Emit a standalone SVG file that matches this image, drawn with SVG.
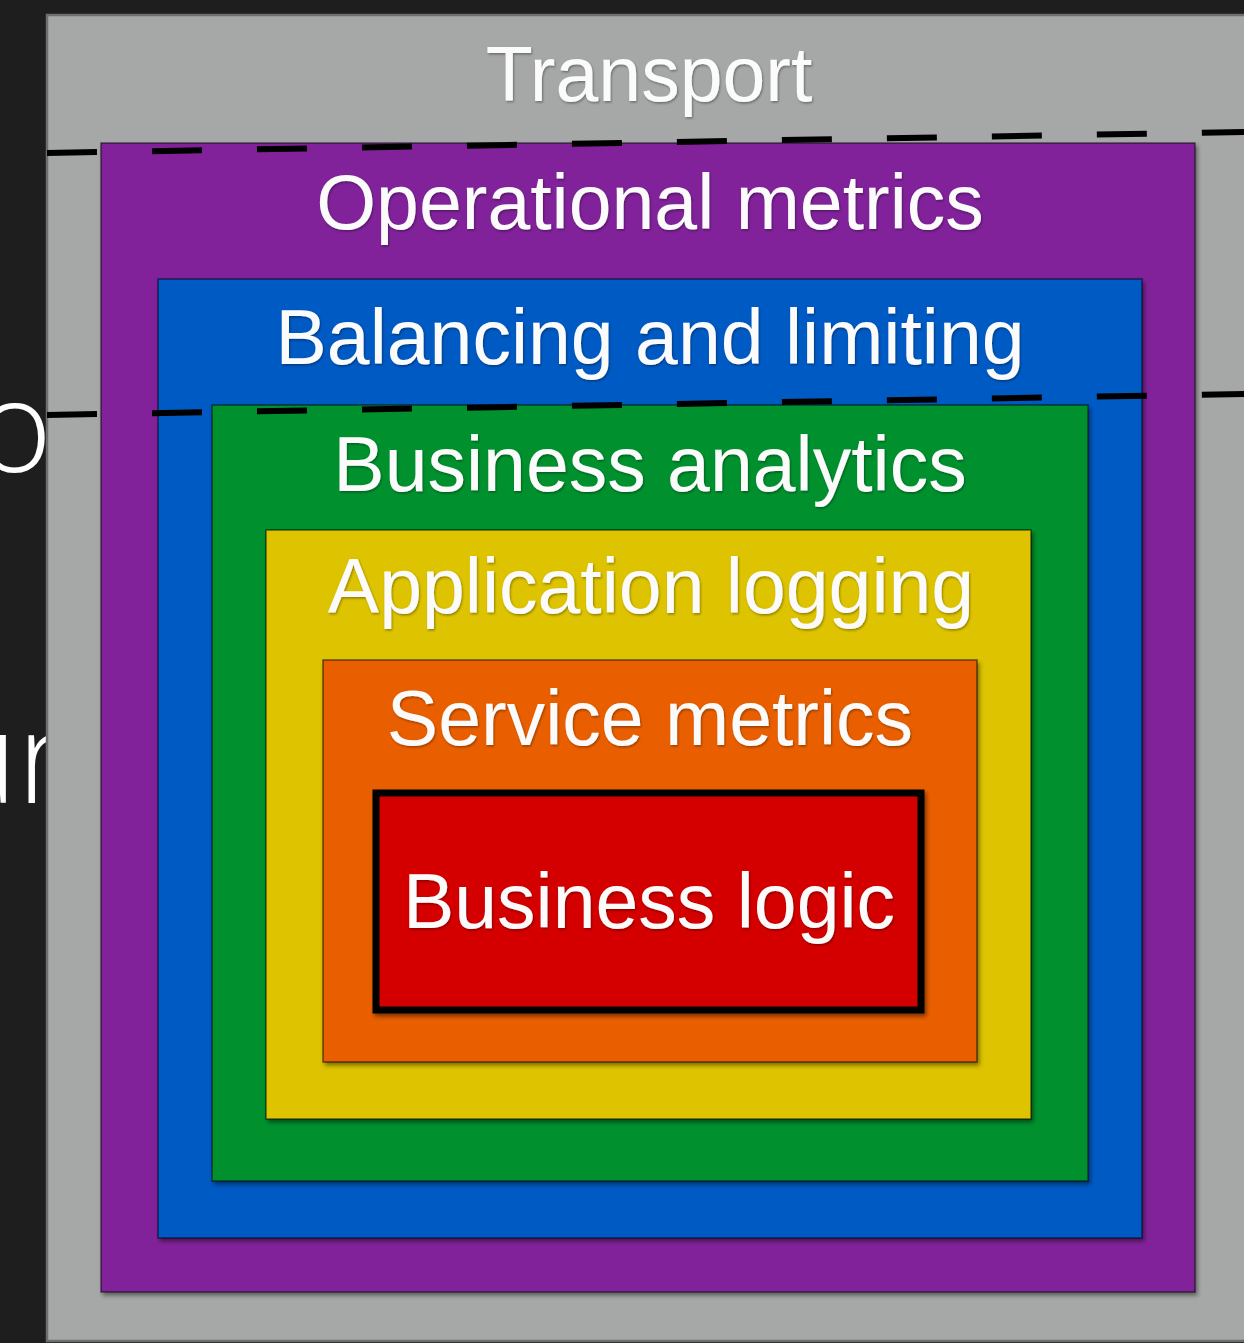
<svg xmlns="http://www.w3.org/2000/svg" width="1244" height="1343" viewBox="0 0 1244 1343">
  <defs>
    <filter id="sh" x="-5%" y="-5%" width="110%" height="110%">
      <feDropShadow dx="2" dy="3" stdDeviation="2" flood-color="#000" flood-opacity="0.45"/>
    </filter>
    <filter id="tsh" x="-5%" y="-10%" width="110%" height="130%">
      <feDropShadow dx="1" dy="1.5" stdDeviation="1" flood-color="#000" flood-opacity="0.35"/>
    </filter>
  </defs>
  <style>
    .box { stroke: rgba(0,0,0,0.55); stroke-width: 1.5; filter: url(#sh); }
    .lbl { font-family: "Liberation Sans", Arial, sans-serif; font-size: 77px; fill: #fbfbfb; text-anchor: middle; filter: url(#tsh); }
    .slide { font-family: "Open Sans", "Noto Sans", sans-serif; font-weight: 300; font-size: 128px; fill: #ffffff; text-anchor: end; }
    .dash { fill: none; stroke: #000; stroke-width: 6; stroke-dasharray: 50 55; }
  </style>
  <rect x="0" y="0" width="1244" height="1343" fill="#1e1e1e"/>
  <g id="slide-text">
    <text class="slide" x="52" y="472">o</text>
    <text class="slide" x="67" y="803">ur</text>
  </g>
  <g id="transport">
    <rect x="47" y="15" width="1210" height="1326" fill="#a5a8a7" stroke="#6e6e6e" stroke-width="2.5"/>
    <text class="lbl" x="649" y="101">Transport</text>
  </g>
  <g id="operational-metrics">
    <rect class="box" x="101" y="143" width="1094" height="1149" fill="#81219a"/>
    <text class="lbl" x="650" y="229">Operational metrics</text>
  </g>
  <g id="balancing-and-limiting">
    <rect class="box" x="158" y="279" width="984" height="959" fill="#005ac4"/>
    <text class="lbl" x="650" y="364">Balancing and limiting</text>
  </g>
  <g id="business-analytics">
    <rect class="box" x="212" y="405" width="876" height="776" fill="#00912e"/>
    <text class="lbl" x="650" y="491">Business analytics</text>
  </g>
  <g id="application-logging">
    <rect class="box" x="266" y="530" width="765" height="589" fill="#ddc300"/>
    <text class="lbl" x="651" y="613">Application logging</text>
  </g>
  <g id="service-metrics">
    <rect class="box" x="323" y="660" width="654" height="402" fill="#e95e00"/>
    <text class="lbl" x="650" y="745">Service metrics</text>
  </g>
  <g id="business-logic">
    <rect x="376" y="793" width="545" height="217" fill="#d40000" stroke="#000" stroke-width="7" filter="url(#sh)"/>
    <text class="lbl" x="649" y="928">Business logic</text>
  </g>
  <g id="connectors">
    <line class="dash" x1="47" y1="153" x2="1244" y2="132"/>
    <line class="dash" x1="47" y1="415" x2="1244" y2="394"/>
  </g>
</svg>
